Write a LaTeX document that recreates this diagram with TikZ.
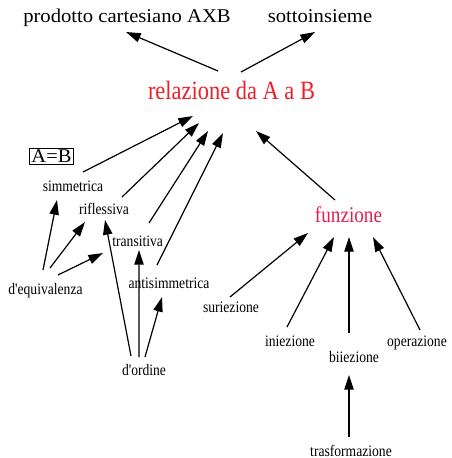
\documentclass[tikz,border=0pt]{standalone}
\usepackage{fontspec}
\usetikzlibrary{arrows.meta}
\newfontfamily\condf[FakeStretch=0.85]{Liberation Serif}
\newfontfamily\widef[FakeStretch=1.06]{Liberation Serif}
\definecolor{relred}{RGB}{236,32,42}
\definecolor{funred}{RGB}{228,30,78}
\tikzset{
  lbl/.style={font={\condf\fontsize{12}{14}\selectfont}, inner sep=0pt, anchor=base},
  toplbl/.style={font={\widef\fontsize{14.6}{17}\selectfont}, inner sep=0pt, anchor=base},
  mainlbl/.style={font={\condf\fontsize{19.8}{23}\selectfont}, inner sep=0pt, anchor=base, text=relred},
  funlbl/.style={font={\condf\fontsize{16.9}{20}\selectfont}, inner sep=0pt, anchor=base, text=funred},
  boxlbl/.style={font={\widef\fontsize{14.5}{17}\selectfont}, draw, line width=0.6pt, inner xsep=1.5pt, inner ysep=1.1pt, anchor=base},
  arr/.style={line width=0.9pt, -{Triangle[length=11pt,width=7pt]}}
}
\begin{document}
\begin{tikzpicture}[x=0.75pt,y=-0.75pt]
\useasboundingbox (0,0) rectangle (451,458);
% nodes
\node[toplbl] (prod) at (127,22) {prodotto cartesiano AXB};
\node[toplbl] (sott) at (320,22) {sottoinsieme};
\node[mainlbl] (rel) at (231.5,99) {relazione da A a B};
\node[boxlbl] (ab) at (51.5,162.5) {A=B};
\node[lbl] (simm) at (73,191) {simmetrica};
\node[lbl] (rifl) at (104,214) {riflessiva};
\node[lbl] (trans) at (137.7,246.7) {transitiva};
\node[lbl] (anti) at (169,288) {antisimmetrica};
\node[lbl] (deq) at (45.5,294) {d'equivalenza};
\node[lbl] (dord) at (144,375.7) {d'ordine};
\node[funlbl] (funz) at (348.5,222.7) {funzione};
\node[lbl] (suri) at (231,312.7) {suriezione};
\node[lbl] (inie) at (290,346) {iniezione};
\node[lbl] (biie) at (354,362.7) {biiezione};
\node[lbl] (oper) at (417,346) {operazione};
\node[lbl] (trasf) at (351,456) {trasformazione};
% connectors
\draw[arr] ([shift={(-13.5,-28)}]rel.base) -- ([shift={(-1,10)}]prod.base);
\draw[arr] ([shift={(9.5,-27)}]rel.base) -- ([shift={(-5,10)}]sott.base);
\draw[arr] ([shift={(10,-19)}]simm.base) -- ([shift={(-38.5,17)}]rel.base);
\draw[arr] ([shift={(18,-17)}]rifl.base) -- ([shift={(-32.5,24)}]rel.base);
\draw[arr] ([shift={(11.3,-23.7)}]trans.base) -- ([shift={(-23.5,32)}]rel.base);
\draw[arr] ([shift={(-12,-23)}]anti.base) -- ([shift={(-8.5,34)}]rel.base);
\draw[arr] ([shift={(-13.5,-22.7)}]funz.base) -- ([shift={(24.5,32)}]rel.base);
\draw[arr] ([shift={(-2.5,-24)}]deq.base) -- ([shift={(-16,9)}]simm.base);
\draw[arr] ([shift={(4.5,-26)}]deq.base) -- ([shift={(-19,8)}]rifl.base);
\draw[arr] ([shift={(12.5,-19)}]deq.base) -- ([shift={(-34.7,6.3)}]trans.base);
\draw[arr] ([shift={(-13,-19.7)}]dord.base) -- ([shift={(1,6)}]rifl.base);
\draw[arr] ([shift={(-5,-18.7)}]dord.base) -- ([shift={(1.3,3.3)}]trans.base);
\draw[arr] ([shift={(1,-18.7)}]dord.base) -- ([shift={(-7,9)}]anti.base);
\draw[arr] ([shift={(-1,-15.7)}]suri.base) -- ([shift={(-40.5,10.3)}]funz.base);
\draw[arr] ([shift={(-3,-19)}]inie.base) -- ([shift={(-14.5,14.3)}]funz.base);
\draw[arr] ([shift={(-5,-29.7)}]biie.base) -- ([shift={(0.5,14.3)}]funz.base);
\draw[arr] ([shift={(3,-16)}]oper.base) -- ([shift={(24.5,14.3)}]funz.base);
\draw[arr] ([shift={(-2,-19)}]trasf.base) -- ([shift={(-5,12.3)}]biie.base);
\end{tikzpicture}
\end{document}
